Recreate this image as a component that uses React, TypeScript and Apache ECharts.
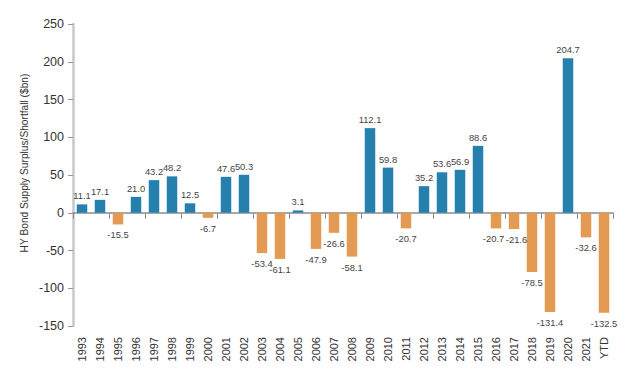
import React, { useEffect, useRef } from "react";
import * as echarts from "echarts";

const categories = ["1993","1994","1995","1996","1997","1998","1999","2000","2001","2002","2003","2004","2005","2006","2007","2008","2009","2010","2011","2012","2013","2014","2015","2016","2017","2018","2019","2020","2021","YTD"];
const values = [11.1,17.1,-15.5,21.0,43.2,48.2,12.5,-6.7,47.6,50.3,-53.4,-61.1,3.1,-47.9,-26.6,-58.1,112.1,59.8,-20.7,35.2,53.6,56.9,88.6,-20.7,-21.6,-78.5,-131.4,204.7,-32.6,-132.5];
const yTicks = { min: -150, max: 250, interval: 50 };
const yTitle = "HY Bond Supply Surplus/Shortfall ($bn)";
const BLUE = "#2680ad";
const ORANGE = "#e39a52";
const REG = "'Liberation Sans', Arial, sans-serif";

export default function App() {
  const ref = useRef<HTMLDivElement>(null);
  useEffect(() => {
    const chart = echarts.init(ref.current!, null, { renderer: "svg" });
    const top = 24;
    const bottom = 52;
    const plotH = 378 - top - bottom;
    const zeroY = top + (yTicks.max / (yTicks.max - yTicks.min)) * plotH;
    const zeroOffset = -(378 - bottom - zeroY);
    const labelNudge: Record<string, number> = { "2016": -2.5, "2017": 2.5 };
    chart.setOption({
      animation: false,
      grid: { left: 73, right: 22, top, bottom },
      graphic: [
        {
          type: "text",
          x: 24,
          y: 163,
          rotation: Math.PI / 2,
          style: {
            text: yTitle,
            fill: "#333",
            fontSize: 10.2,
            fontFamily: REG,
            align: "center",
            verticalAlign: "middle",
          },
        },
      ],
      xAxis: [
        {
          type: "category",
          data: categories,
          position: "bottom",
          axisLine: { show: false, onZero: false },
          axisTick: { show: false },
          axisLabel: {
            rotate: 90,
            interval: 0,
            color: "#333",
            fontFamily: REG,
            fontSize: 11,
            margin: 11,
          },
        },
        {
          type: "category",
          data: categories,
          position: "bottom",
          offset: zeroOffset,
          axisLine: { show: true, onZero: false, lineStyle: { color: "#8c8c8c", width: 1.5 } },
          axisTick: { show: true, length: 6, lineStyle: { color: "#8c8c8c" } },
          axisLabel: { show: false },
        },
      ],
      yAxis: {
        type: "value",
        min: yTicks.min,
        max: yTicks.max,
        interval: yTicks.interval,
        axisLine: { show: true, lineStyle: { color: "#c8c8c8", width: 2.5 } },
        axisTick: { show: true, length: 5, lineStyle: { color: "#999" } },
        axisLabel: { color: "#333", fontSize: 12.5, fontFamily: REG, margin: 9 },
        splitLine: { show: false },
      },
      series: [
        {
          type: "bar",
          barWidth: 10.5,
          data: values.map((v, i) => ({
            value: v,
            itemStyle: { color: v >= 0 ? BLUE : ORANGE },
            label: {
              show: true,
              position: v >= 0 ? "top" : "bottom",
              distance: v >= 0 ? 4 : 6,
              offset: [labelNudge[categories[i]] || 0, 0],
              color: "#444",
              fontSize: 9.4,
              fontFamily: REG,
              formatter: (p: any) => Number(p.value).toFixed(1),
            },
          })),
        },
      ],
    });
    return () => chart.dispose();
  }, []);
  return <div ref={ref} style={{ width: 635, height: 378, position: "absolute", left: 0, top: 0 }} />;
}
